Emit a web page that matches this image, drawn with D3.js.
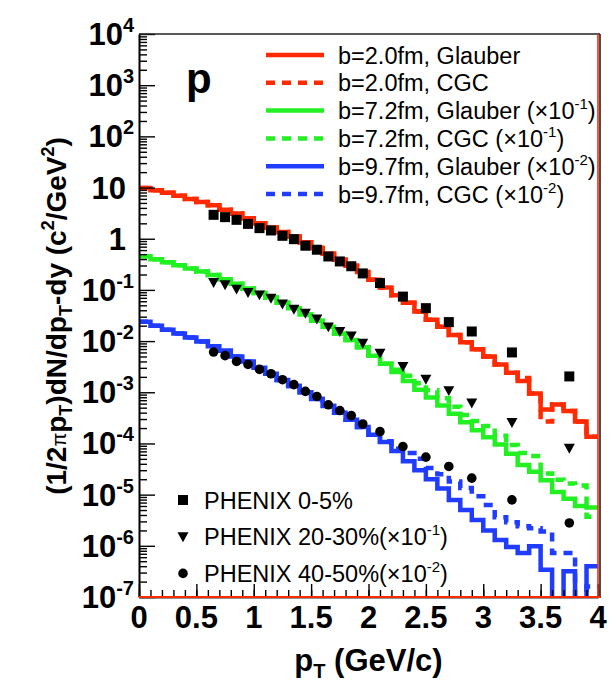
<!DOCTYPE html>
<html><head><meta charset="utf-8">
<script src="https://cdn.jsdelivr.net/npm/d3@7/dist/d3.min.js"></script>
<style>
body{margin:0;background:#fff}
svg{display:block}
text{font-family:"Liberation Sans",Arial,Helvetica,sans-serif;fill:#000}
</style>
</head><body>
<svg id="c" width="613" height="685"></svg>
<script>
// ---------------- DATA ----------------
const binLow = [0,0.1,0.2,0.3,0.4,0.5,0.6,0.7,0.8,0.9,1.0,1.1,1.2,1.3,1.4,1.5,1.6,1.7,1.8,1.9,
                2.0,2.1,2.2,2.3,2.4,2.5,2.6,2.7,2.8,2.9,3.0,3.1,3.2,3.3,3.4,3.5,3.6,3.7,3.8,3.9];
const binHigh = 4.0;

const red_glauber = [9.8,8.9,7.9,6.9,6.0,5.2,4.5,3.7,3.1,2.5,2.0,1.66,1.35,1.10,0.85,0.66,0.51,0.39,0.295,0.224,
  0.158,0.112,0.079,0.056,0.038,0.026,0.019,0.0132,0.0095,0.0069,0.0050,0.0035,0.0024,0.00166,0.00095,0.00046,0.00058,0.00043,0.00027,0.000135];
const red_cgc = [9.8,8.9,7.9,6.9,6.0,5.2,4.5,3.7,3.1,2.5,2.0,1.66,1.35,1.10,0.85,0.66,0.51,0.39,0.295,0.224,
  0.158,0.112,0.079,0.056,0.038,0.026,0.019,0.0132,0.0095,0.0069,0.0050,0.0035,0.0024,0.0019,0.00095,0.00027,0.00058,0.00043,0.00027,0.000135];

const green_glauber = [0.457,0.398,0.347,0.302,0.263,0.229,0.195,0.162,0.132,0.107,0.087,0.071,0.056,0.044,0.033,0.025,0.019,0.0141,0.0105,0.0076,
  0.0052,0.0036,0.0025,0.00166,0.00112,0.00079,0.00055,0.00038,0.00026,0.000182,0.000132,0.000095,0.000063,0.000038,0.000028,0.000019,0.0000112,0.0000083,0.0000060,0.0000056];
const green_cgc = [0.457,0.398,0.347,0.302,0.263,0.229,0.195,0.162,0.132,0.107,0.087,0.071,0.056,0.044,0.033,0.025,0.019,0.0141,0.0105,0.0076,
  0.0052,0.0036,0.00275,0.0021,0.0015,0.0011,0.00076,0.00052,0.00036,0.000275,0.00022,0.000141,0.000093,0.000065,0.000057,0.000026,0.0000195,0.0000165,0.0000150,0.0000037];

const blue_glauber = [0.024,0.020,0.0166,0.0141,0.0117,0.0098,0.0079,0.0065,0.0050,0.0040,0.0030,0.0023,0.00174,0.00132,0.0010,0.00074,0.00054,0.00040,0.00029,0.00021,
  0.000148,0.000107,0.000071,0.000045,0.000030,0.000020,0.0000132,0.0000079,0.0000050,0.0000032,0.0000020,0.0000013,0.00000095,0.00000072,0.00000098,0.00000034,0,0.00000032,0,0.00000040];
const blue_cgc = [0.024,0.020,0.0166,0.0141,0.0117,0.0098,0.0079,0.0065,0.0050,0.0040,0.0030,0.0023,0.00174,0.00132,0.0010,0.00074,0.00054,0.00040,0.00029,0.00021,
  0.000148,0.000110,0.000079,0.000065,0.000050,0.000033,0.000025,0.000018,0.0000135,0.0000093,0.0000063,0.0000036,0.0000029,0.0000024,0.0000022,0.0000019,0.00000072,0.00000072,0,0.00000016];

const phenix_pt = [0.65,0.75,0.85,0.95,1.05,1.15,1.25,1.35,1.45,1.55,1.65,1.75,1.85,1.95,2.1,2.3,2.5,2.7,2.9,3.25,3.75];
const phenix_0_5 = [2.93,2.64,2.34,1.95,1.61,1.45,1.14,0.98,0.73,0.61,0.45,0.36,0.29,0.21,0.136,0.074,0.044,0.0235,0.0154,0.0060,0.00204];
const phenix_20_30 = [0.14,0.126,0.104,0.089,0.080,0.069,0.053,0.042,0.035,0.027,0.019,0.0154,0.0127,0.0091,0.0058,0.0032,0.0018,0.00108,0.00062,0.000258,0.000081];
const phenix_40_50 = [0.0061,0.0052,0.0040,0.0035,0.0028,0.0023,0.00176,0.00141,0.00104,0.00083,0.00057,0.00044,0.00035,0.00024,0.00017,0.000087,0.000054,0.0000355,0.000021,0.0000079,0.0000028];

const xTicks = [0,0.5,1,1.5,2,2.5,3,3.5,4];
const xTickLabels = ["0","0.5","1","1.5","2","2.5","3","3.5","4"];
const yDecades = [-7,-6,-5,-4,-3,-2,-1,0,1,2,3,4];

const modelLegend = [
  [["b=2.0fm, Glauber"]],
  [["b=2.0fm, CGC"]],
  [["b=7.2fm, Glauber (\u00d710"],["-1",1],[")"]],
  [["b=7.2fm, CGC (\u00d710"],["-1",1],[")"]],
  [["b=9.7fm, Glauber (\u00d710"],["-2",1],[")"]],
  [["b=9.7fm, CGC (\u00d710"],["-2",1],[")"]]
];
const dataLegend = [
  [["PHENIX 0-5%"]],
  [["PHENIX 20-30%(\u00d710"],["-1",1],[")"]],
  [["PHENIX 40-50%(\u00d710"],["-2",1],[")"]]
];

// ---------------- STYLES ----------------
const RED = "#ff2a00", GREEN = "#22f022", BLUE = "#1f3cff";
const models = [
  {v: red_glauber, c: RED, dash: null},
  {v: red_cgc, c: RED, dash: "9,7"},
  {v: green_glauber, c: GREEN, dash: null},
  {v: green_cgc, c: GREEN, dash: "9,7"},
  {v: blue_glauber, c: BLUE, dash: null},
  {v: blue_cgc, c: BLUE, dash: "9,7"}
];
const dataSets = [
  {v: phenix_0_5, sym: d3.symbolSquare, size: 100},
  {v: phenix_20_30, sym: "tri", size: 0},
  {v: phenix_40_50, sym: d3.symbolCircle, size: 72}
];

// ---------------- CHART ----------------
const svg = d3.select("#c");
const L = 139, R = 598, T = 34, B = 597;
const x = d3.scaleLinear().domain([0, 4]).range([L, R]);
const y = d3.scaleLog().domain([1e-7, 1e4]).range([B, T]);

svg.append("defs").append("clipPath").attr("id", "pc")
  .append("rect").attr("x", L).attr("y", T).attr("width", R - L).attr("height", B - T);

// model histograms
const plot = svg.append("g").attr("clip-path", "url(#pc)");
models.forEach(m => {
  const pts = binLow.map((b, i) => [b, m.v[i]]);
  pts.push([binHigh, m.v[m.v.length - 1]]);
  const line = d3.line()
    .x(d => x(d[0]))
    .y(d => d[1] > 0 ? y(d[1]) : B + 20)
    .curve(d3.curveStepAfter);
  plot.append("path").attr("d", line(pts))
    .attr("fill", "none").attr("stroke", m.c).attr("stroke-width", 4.5)
    .attr("stroke-linejoin", "miter")
    .attr("stroke-dasharray", m.dash);
});

// markers
function drawMarker(g, type, cx, cy, size) {
  if (type === "tri") {
    const s = 5.5;
    g.append("path").attr("d", `M${cx - s},${cy - s * 0.8}L${cx + s},${cy - s * 0.8}L${cx},${cy + s}Z`).attr("fill", "#000");
  } else {
    g.append("path").attr("d", d3.symbol().type(type).size(size)()).attr("transform", `translate(${cx},${cy})`).attr("fill", "#000");
  }
}
const mk = svg.append("g");
dataSets.forEach(ds => {
  phenix_pt.forEach((p, i) => drawMarker(mk, ds.sym, x(p), y(ds.v[i]), ds.size));
});

// axes
const majorY = yDecades.map(e => Math.pow(10, e));
const minorY = [];
yDecades.slice(0, -1).forEach(e => { for (let k = 2; k <= 9; k++) minorY.push(k * Math.pow(10, e)); });
svg.append("g").attr("transform", `translate(${L},0)`)
  .call(d3.axisLeft(y).tickValues(majorY).tickSizeInner(-16).tickSizeOuter(0).tickFormat(""));
svg.append("g").attr("transform", `translate(${L},0)`)
  .call(d3.axisLeft(y).tickValues(minorY).tickSizeInner(-8).tickSizeOuter(0).tickFormat(""));
const minorX = [];
for (let k = 0; k <= 40; k++) minorX.push(k / 10);
svg.append("g").attr("transform", `translate(0,${B})`)
  .call(d3.axisBottom(x).tickValues(xTicks).tickSizeInner(-13).tickSizeOuter(0).tickFormat(""));
svg.append("g").attr("transform", `translate(0,${B})`)
  .call(d3.axisBottom(x).tickValues(minorX).tickSizeInner(-7).tickSizeOuter(0).tickFormat(""));
svg.selectAll(".tick line").attr("stroke", "#000").attr("stroke-width", 1.4);
svg.selectAll(".domain").attr("stroke", "#000").attr("stroke-width", 1.6);

// frame
svg.append("line").attr("x1", L).attr("x2", R + 2).attr("y1", T).attr("y2", T).attr("stroke", "#222").attr("stroke-width", 1.6);
svg.append("line").attr("x1", R + 2).attr("x2", R + 2).attr("y1", T).attr("y2", B + 1).attr("stroke", "#222").attr("stroke-width", 1.6);
svg.append("line").attr("x1", R).attr("x2", R).attr("y1", T).attr("y2", B).attr("stroke", RED).attr("stroke-width", 1.6);
svg.append("line").attr("x1", L).attr("x2", R + 2).attr("y1", B).attr("y2", B).attr("stroke", RED).attr("stroke-width", 2);

// y tick labels
yDecades.forEach(e => {
  const yy = y(Math.pow(10, e));
  const t = svg.append("text").attr("font-weight", "bold").attr("font-size", 31).attr("text-anchor", "end")
    .attr("y", yy + 11);
  if (e === 0) { t.attr("x", 126).text("1"); }
  else if (e === 1) { t.attr("x", 126).text("10"); }
  else {
    t.attr("x", 134);
    t.append("tspan").text("10");
    t.append("tspan").attr("font-size", 20).attr("dy", -13).text(String(e));
  }
});

// x tick labels
xTicks.forEach((v, i) => {
  svg.append("text").attr("font-weight", "bold").attr("font-size", 31).attr("text-anchor", "middle")
    .attr("x", x(v)).attr("y", 628).text(xTickLabels[i]);
});

// x title
const xt = svg.append("text").attr("font-weight", "bold").attr("font-size", 31).attr("text-anchor", "middle")
  .attr("x", x(2)).attr("y", 671);
xt.append("tspan").text("p");
xt.append("tspan").attr("font-size", 20).attr("dy", 7).text("T");
xt.append("tspan").attr("dy", -7).text(" (GeV/c)");

// y title
const yt = svg.append("text").attr("font-weight", "bold").attr("font-size", 28).attr("text-anchor", "middle")
  .attr("transform", "translate(66,316) rotate(-90)");
yt.append("tspan").text("(1/2");
yt.append("tspan").attr("font-size", 20).attr("font-weight", "normal").text("\u03c0");
yt.append("tspan").text("p");
yt.append("tspan").attr("font-size", 18).attr("dy", 6).text("T");
yt.append("tspan").attr("dy", -6).text(")dN/dp");
yt.append("tspan").attr("font-size", 18).attr("dy", 6).text("T");
yt.append("tspan").attr("dy", -6).text("-dy (c");
yt.append("tspan").attr("font-size", 18).attr("dy", -12).text("2");
yt.append("tspan").attr("dy", 12).text("/GeV");
yt.append("tspan").attr("font-size", 18).attr("dy", -12).text("2");
yt.append("tspan").attr("dy", 12).text(")");

// particle label
svg.append("text").attr("font-weight", "bold").attr("font-size", 42).attr("x", 186).attr("y", 93).text("p");

// legend text helper
function richText(sel, parts) {
  let up = false;
  parts.forEach(p => {
    if (p[1]) { sel.append("tspan").attr("font-size", 15).attr("dy", -10).text(p[0]); up = true; }
    else {
      const ts = sel.append("tspan").text(p[0]);
      if (up) { ts.attr("dy", 10); up = false; }
    }
  });
}

// model legend
modelLegend.forEach((parts, i) => {
  const cy = 55 + i * 27.8;
  const m = models[i];
  svg.append("line").attr("x1", 266).attr("x2", 324).attr("y1", cy).attr("y2", cy)
    .attr("stroke", m.c).attr("stroke-width", 4.5).attr("stroke-dasharray", m.dash);
  const t = svg.append("text").attr("font-size", 23.5).attr("x", 338).attr("y", cy + 8.5);
  richText(t, parts);
});

// data legend
dataLegend.forEach((parts, i) => {
  const cy = 500 + i * 36.7;
  drawMarker(svg, dataSets[i].sym, 183, cy, dataSets[i].size);
  const t = svg.append("text").attr("font-size", 23.5).attr("x", 204).attr("y", cy + 8.5);
  richText(t, parts);
});
</script>
</body></html>
